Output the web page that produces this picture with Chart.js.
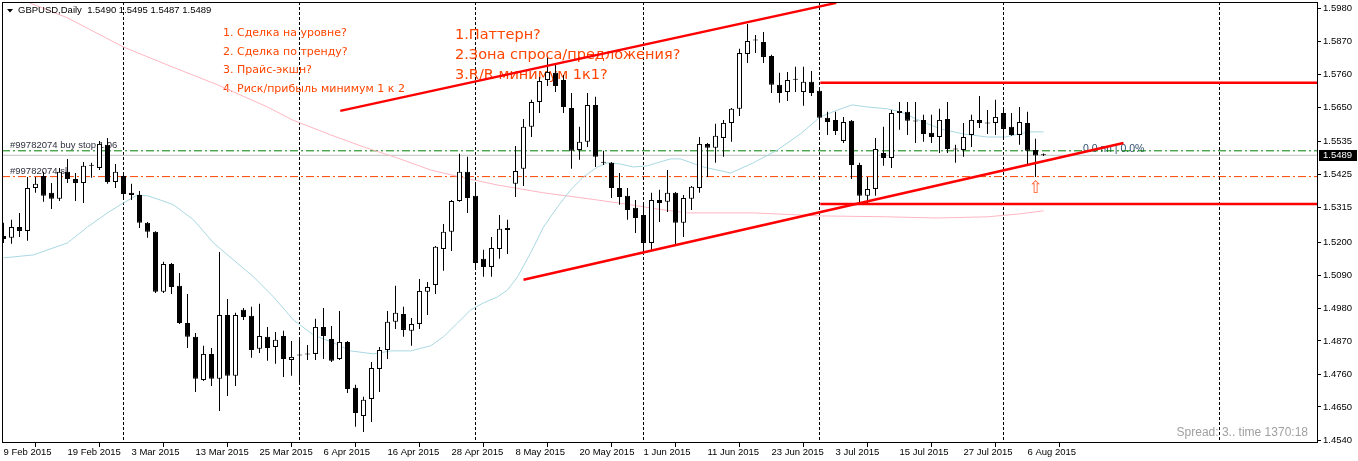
<!DOCTYPE html>
<html>
<head>
<meta charset="utf-8">
<script src="https://cdn.jsdelivr.net/npm/chart.js@4.4.1/dist/chart.umd.min.js"></script>
<style>
  html, body { margin: 0; padding: 0; background: #fff; }
  #wrap { width: 1358px; height: 461px; position: relative; }
</style>
</head>
<body>
<div id="wrap"><canvas id="gbpChart"></canvas></div>
<script>
// GBPUSD daily, 9 Feb 2015 .. 10 Aug 2015 (bar index 0..130)
const opens = [
  1.5220, 1.5214, 1.5250, 1.5237, 1.5380, 1.5420, 1.5364, 1.5344, 1.5434, 1.5410,
  1.5397, 1.5454, 1.5447, 1.5524, 1.5400, 1.5420, 1.5364, 1.5357, 1.5264, 1.5234,
  1.5034, 1.5127, 1.5054, 1.4930, 1.4884, 1.4740, 1.4827, 1.4744, 1.4957, 1.4754,
  1.4974, 1.4954, 1.4844, 1.4884, 1.4850, 1.4887, 1.4807, 1.4824, 1.4827, 1.4827,
  1.4917, 1.4877, 1.4810, 1.4867, 1.4714, 1.4620, 1.4677, 1.4777, 1.4840, 1.4934,
  1.4960, 1.4904, 1.4927, 1.5034, 1.5057, 1.5177, 1.5234, 1.5337, 1.5434, 1.5354,
  1.5144, 1.5117, 1.5177, 1.5240, 1.5394, 1.5444, 1.5584, 1.5667, 1.5740, 1.5764,
  1.5740, 1.5647, 1.5507, 1.5534, 1.5657, 1.5464, 1.5464, 1.5380, 1.5354, 1.5314,
  1.5290, 1.5197, 1.5340, 1.5334, 1.5364, 1.5264, 1.5344, 1.5380, 1.5527, 1.5514,
  1.5547, 1.5597, 1.5644, 1.5827, 1.5874, 1.5867, 1.5820, 1.5724, 1.5700, 1.5744,
  1.5700, 1.5734, 1.5704, 1.5614, 1.5607, 1.5537, 1.5604, 1.5457, 1.5354, 1.5377,
  1.5497, 1.5480, 1.5630, 1.5634, 1.5604, 1.5607, 1.5564, 1.5550, 1.5610, 1.5510,
  1.5507, 1.5557, 1.5607, 1.5597, 1.5597, 1.5630, 1.5584, 1.5557, 1.5597, 1.5507,
  1.5490
];
const highs = [
  1.5264, 1.5274, 1.5297, 1.5417, 1.5417, 1.5434, 1.5397, 1.5447, 1.5477, 1.5430,
  1.5467, 1.5464, 1.5537, 1.5547, 1.5460, 1.5430, 1.5394, 1.5370, 1.5267, 1.5236,
  1.5134, 1.5130, 1.5097, 1.5027, 1.4897, 1.4854, 1.4847, 1.5167, 1.5010, 1.4964,
  1.4980, 1.4984, 1.4994, 1.4917, 1.4900, 1.4904, 1.4870, 1.4880, 1.4857, 1.4944,
  1.4980, 1.4920, 1.4970, 1.4870, 1.4724, 1.4684, 1.4800, 1.4850, 1.4970, 1.5054,
  1.4984, 1.4947, 1.5077, 1.5067, 1.5187, 1.5260, 1.5340, 1.5494, 1.5484, 1.5400,
  1.5174, 1.5217, 1.5290, 1.5274, 1.5520, 1.5610, 1.5674, 1.5750, 1.5814, 1.5797,
  1.5757, 1.5697, 1.5584, 1.5697, 1.5684, 1.5504, 1.5467, 1.5430, 1.5380, 1.5340,
  1.5324, 1.5364, 1.5374, 1.5440, 1.5367, 1.5357, 1.5387, 1.5550, 1.5530, 1.5594,
  1.5607, 1.5647, 1.5844, 1.5927, 1.5890, 1.5900, 1.5824, 1.5764, 1.5767, 1.5784,
  1.5784, 1.5770, 1.5707, 1.5634, 1.5634, 1.5617, 1.5607, 1.5464, 1.5417, 1.5547,
  1.5584, 1.5640, 1.5667, 1.5667, 1.5667, 1.5624, 1.5624, 1.5644, 1.5667, 1.5524,
  1.5597, 1.5624, 1.5687, 1.5640, 1.5674, 1.5647, 1.5630, 1.5650, 1.5634, 1.5544,
  1.5495
];
const lows = [
  1.5197, 1.5194, 1.5217, 1.5204, 1.5364, 1.5334, 1.5310, 1.5337, 1.5397, 1.5337,
  1.5330, 1.5414, 1.5440, 1.5394, 1.5380, 1.5350, 1.5340, 1.5247, 1.5214, 1.5030,
  1.5030, 1.5027, 1.4927, 1.4847, 1.4700, 1.4737, 1.4720, 1.4637, 1.4687, 1.4720,
  1.4940, 1.4814, 1.4830, 1.4804, 1.4794, 1.4750, 1.4754, 1.4730, 1.4807, 1.4807,
  1.4810, 1.4800, 1.4807, 1.4697, 1.4584, 1.4567, 1.4600, 1.4700, 1.4810, 1.4910,
  1.4884, 1.4854, 1.4910, 1.4957, 1.5027, 1.5104, 1.5170, 1.5334, 1.5297, 1.5114,
  1.5084, 1.5084, 1.5144, 1.5160, 1.5350, 1.5387, 1.5550, 1.5630, 1.5720, 1.5700,
  1.5630, 1.5444, 1.5474, 1.5517, 1.5450, 1.5457, 1.5347, 1.5324, 1.5274, 1.5230,
  1.5164, 1.5174, 1.5267, 1.5300, 1.5190, 1.5217, 1.5307, 1.5364, 1.5417, 1.5464,
  1.5484, 1.5534, 1.5620, 1.5797, 1.5830, 1.5797, 1.5697, 1.5664, 1.5670, 1.5700,
  1.5654, 1.5687, 1.5574, 1.5557, 1.5557, 1.5530, 1.5410, 1.5330, 1.5330, 1.5354,
  1.5454, 1.5447, 1.5574, 1.5557, 1.5530, 1.5534, 1.5530, 1.5497, 1.5497, 1.5464,
  1.5484, 1.5517, 1.5580, 1.5560, 1.5557, 1.5547, 1.5554, 1.5524, 1.5457, 1.5417,
  1.5487
];
const closes = [
  1.5210, 1.5250, 1.5237, 1.5380, 1.5394, 1.5354, 1.5344, 1.5434, 1.5410, 1.5397,
  1.5454, 1.5457, 1.5527, 1.5400, 1.5434, 1.5360, 1.5357, 1.5264, 1.5234, 1.5034,
  1.5127, 1.5050, 1.4930, 1.4884, 1.4744, 1.4827, 1.4744, 1.4957, 1.4754, 1.4957,
  1.4950, 1.4840, 1.4887, 1.4847, 1.4874, 1.4810, 1.4817, 1.4822, 1.4825, 1.4917,
  1.4887, 1.4804, 1.4867, 1.4710, 1.4630, 1.4674, 1.4780, 1.4840, 1.4934, 1.4964,
  1.4907, 1.4927, 1.5037, 1.5050, 1.5184, 1.5234, 1.5337, 1.5434, 1.5347, 1.5130,
  1.5117, 1.5180, 1.5244, 1.5247, 1.5437, 1.5584, 1.5667, 1.5737, 1.5767, 1.5720,
  1.5650, 1.5504, 1.5534, 1.5657, 1.5484, 1.5467, 1.5380, 1.5350, 1.5307, 1.5280,
  1.5197, 1.5340, 1.5330, 1.5364, 1.5264, 1.5347, 1.5384, 1.5527, 1.5514, 1.5554,
  1.5597, 1.5644, 1.5830, 1.5870, 1.5872, 1.5817, 1.5724, 1.5697, 1.5740, 1.5741,
  1.5734, 1.5697, 1.5614, 1.5600, 1.5570, 1.5600, 1.5457, 1.5354, 1.5377, 1.5510,
  1.5480, 1.5630, 1.5637, 1.5604, 1.5602, 1.5560, 1.5550, 1.5607, 1.5510, 1.5508,
  1.5550, 1.5607, 1.5597, 1.5595, 1.5617, 1.5577, 1.5557, 1.5600, 1.5504, 1.5488,
  1.5489
];

// moving averages (bar index / price)
const maFastIdx = [0, 3.75, 8, 10.5, 13, 14.6, 16.75, 18, 19.6, 21.25, 23.75, 26.25, 28.75, 31.25, 33.75,
  36.25, 38.75, 41.25, 43.4, 46.25, 48.4, 50.9, 53.4, 55, 56.75, 58.4, 60, 61.75, 63, 64.25, 65.9, 67.5,
  69.25, 70.9, 72.5, 74.25, 75.5, 77.1, 78.75, 80.5, 82.1, 83.4, 84.6, 87.5, 90.9, 93.75, 96.75, 99.6,
  102.1, 104.25, 106.1, 108, 110.5, 112.1, 114.6, 117.1, 120, 123, 125.25, 128.1, 130];
const maFast = [1.5147, 1.5157, 1.5197, 1.5250, 1.5297, 1.5324, 1.5357, 1.5354, 1.5340, 1.5324, 1.5274,
  1.5197, 1.5140, 1.5084, 1.5017, 1.4940, 1.4890, 1.4864, 1.4837, 1.4827, 1.4837, 1.4837, 1.4854, 1.4884,
  1.4930, 1.4974, 1.4997, 1.5017, 1.5040, 1.5084, 1.5164, 1.5250, 1.5317, 1.5374, 1.5417, 1.5450, 1.5464,
  1.5460, 1.5450, 1.5454, 1.5467, 1.5477, 1.5477, 1.5450, 1.5430, 1.5464, 1.5507, 1.5560, 1.5617, 1.5640,
  1.5657, 1.5650, 1.5644, 1.5634, 1.5604, 1.5577, 1.5560, 1.5550, 1.5550, 1.5567, 1.5567];
const maSlowIdx = [0, 3, 8, 15, 20.5, 26.75, 33, 36.1, 40.9, 45, 49.25, 53.4, 57.5, 61.75, 67.5, 74.25,
  78.4, 82.5, 85.5, 93.75, 102.1, 110.5, 116.75, 123, 127.1, 130];
const maSlow = [1.6034, 1.6000, 1.5947, 1.5850, 1.5790, 1.5724, 1.5650, 1.5607, 1.5557, 1.5517, 1.5480,
  1.5440, 1.5414, 1.5390, 1.5364, 1.5340, 1.5324, 1.5307, 1.5297, 1.5297, 1.5287, 1.5284, 1.5280, 1.5284,
  1.5294, 1.5304];

// drawn objects
const channelTopIdx = [42.1, 104.1];
const channelTopPrice = [1.5637, 1.5997];
const channelBottomIdx = [65, 140];
const channelBottomPrice = [1.5074, 1.5530];
const levelStartIdx = 102.1;
const resistanceLevel = 1.5731;
const supportLevel = 1.5327;
const buyStopLevel = 1.5504;
const bidLevel = 1.5489;
const stopLossLevel = 1.5418;

// axes
const dateTickIdx = [0, 8, 16, 24, 32, 40, 48, 56, 64, 72, 80, 88, 96, 104, 112, 120, 128];
const dateTickLabels = ['9 Feb 2015', '19 Feb 2015', '3 Mar 2015', '13 Mar 2015', '25 Mar 2015',
  '6 Apr 2015', '16 Apr 2015', '28 Apr 2015', '8 May 2015', '20 May 2015', '1 Jun 2015',
  '11 Jun 2015', '23 Jun 2015', '3 Jul 2015', '15 Jul 2015', '27 Jul 2015', '6 Aug 2015'];
const priceTicks = [1.5980, 1.5870, 1.5760, 1.5650, 1.5535, 1.5425, 1.5315, 1.5200, 1.5090,
  1.4980, 1.4870, 1.4760, 1.4650, 1.4540];
const monthSepIdx = [15, 37, 59, 80, 102, 125, 152];

const notesSmall = ['1. Сделка на уровне?', '2. Сделка по тренду?', '3. Прайс-экшн?', '4. Риск/прибыль минимум 1 к 2'];
const notesBig = ['1.Паттерн?', '2.Зона спроса/предложения?', '3.R/R минимум 1к1?'];

const pts = (xs, ys) => xs.map((v, i) => ({x: v, y: ys[i]}));
const last = opens.length - 1;
const xMin = -0.1875;
const xMax = xMin + 1316 / 8;
const fullWidth = v => pts([xMin, xMax], [v, v]);

Chart.defaults.font.family = "'Liberation Sans', Arial, sans-serif";
Chart.defaults.font.size = 9.5;
Chart.defaults.color = '#000';

const decor = {
  id: 'decor',
  beforeDatasetsDraw(chart) {
    const {ctx, chartArea: a, scales: {x, y}} = chart;
    ctx.save();
    ctx.beginPath();
    ctx.rect(a.left, a.top, a.right - a.left, a.bottom - a.top);
    ctx.clip();

    // period separators
    ctx.strokeStyle = '#000';
    ctx.lineWidth = 1;
    ctx.setLineDash([3, 2]);
    monthSepIdx.forEach(i => {
      const px = Math.floor(x.getPixelForValue(i)) + 0.5;
      ctx.beginPath();
      ctx.moveTo(px, a.top);
      ctx.lineTo(px, a.bottom);
      ctx.stroke();
    });

    // notes
    ctx.setLineDash([]);
    ctx.fillStyle = '#FF4500';
    ctx.textBaseline = 'middle';
    ctx.font = "11px 'DejaVu Sans'";
    notesSmall.forEach((t, i) => ctx.fillText(t, 223, 33 + i * 18.7));
    ctx.font = "14.5px 'DejaVu Sans'";
    notesBig.forEach((t, i) => ctx.fillText(t, 455, 35 + i * 20.3));

    ctx.font = "9.5px 'Liberation Sans'";
    ctx.fillStyle = '#303040';
    ctx.fillText('#99782074 buy stop 1.06', 10, y.getPixelForValue(buyStopLevel) - 5);
    ctx.fillText('#99782074 sl', 10, y.getPixelForValue(stopLossLevel) - 5);
    ctx.font = "10.5px 'Liberation Sans'";
    ctx.fillStyle = '#2F4F6F';
    ctx.fillText('0.0 пп | 0.0%', 1083, 149);
    ctx.restore();
  },
  afterDraw(chart) {
    const {ctx, chartArea: a, scales: {x, y}} = chart;
    ctx.save();
    // frame
    ctx.strokeStyle = '#000';
    ctx.lineWidth = 1;
    ctx.strokeRect(a.left + 0.5, a.top + 0.5, a.right - a.left - 1, a.bottom - a.top - 1);

    // header
    ctx.fillStyle = '#000';
    ctx.beginPath();
    ctx.moveTo(7, 9); ctx.lineTo(13, 9); ctx.lineTo(10, 12.5); ctx.closePath();
    ctx.fill();
    ctx.font = "9.5px 'Liberation Sans'";
    ctx.textBaseline = 'middle';
    const f = v => v.toFixed(4);
    ctx.fillText('GBPUSD,Daily  ' + [opens[last], highs[last], lows[last], closes[last]].map(f).join(' '), 18, 10.5);

    // arrow under the last full bar
    ctx.font = "17px 'DejaVu Sans'";
    ctx.fillStyle = '#FF6030';
    ctx.textAlign = 'center';
    ctx.fillText('⇧', x.getPixelForValue(last - 1), y.getPixelForValue(lows[last - 1]) + 12);

    // spread
    ctx.textAlign = 'right';
    ctx.font = "12px 'Liberation Sans'";
    ctx.fillStyle = '#A0A0A0';
    ctx.fillText('Spread: 3.. time 1370:18', 1308, 433);

    // bid box
    const by = Math.round(y.getPixelForValue(bidLevel));
    ctx.fillStyle = '#000';
    ctx.fillRect(a.right + 1, by - 5, 38, 11);
    ctx.fillStyle = '#fff';
    ctx.textAlign = 'left';
    ctx.font = "9.5px 'Liberation Sans'";
    ctx.fillText(f(bidLevel), a.right + 5, by + 0.5);
    ctx.restore();
  }
};

const lineDs = (data, color, width, dash) => ({
  type: 'line', data, borderColor: color, borderWidth: width,
  borderDash: dash || [], pointRadius: 0, tension: 0, fill: false
});

new Chart(document.getElementById('gbpChart'), {
  type: 'bar',
  data: {
    datasets: [
      lineDs(pts(channelTopIdx, channelTopPrice), '#FF0000', 2.5),
      lineDs(pts(channelBottomIdx, channelBottomPrice), '#FF0000', 2.5),
      lineDs(pts([levelStartIdx, xMax], [resistanceLevel, resistanceLevel]), '#FF0000', 2.5),
      lineDs(pts([levelStartIdx, xMax], [supportLevel, supportLevel]), '#FF0000', 2.5),
      {
        data: opens.map((o, i) => ({x: i, y: [o, closes[i]]})),
        backgroundColor: opens.map((o, i) => closes[i] >= o ? '#FFFFFF' : '#000000'),
        borderColor: '#000',
        borderWidth: 1,
        borderSkipped: false,
        inflateAmount: 0,
        barThickness: 5,
        minBarLength: 1,
        grouped: false
      },
      {
        data: lows.map((l, i) => ({x: i, y: [l, highs[i]]})),
        backgroundColor: '#000',
        borderWidth: 0,
        inflateAmount: 0,
        barThickness: 1,
        grouped: false
      },
      lineDs(pts(maFastIdx, maFast), '#A8D8E2', 1),
      lineDs(pts(maSlowIdx, maSlow), '#FFB6C1', 1),
      lineDs(fullWidth(buyStopLevel), '#008000', 1, [8, 3, 2, 3]),
      lineDs(fullWidth(stopLossLevel), '#FF4500', 1, [8, 3, 2, 3]),
      lineDs(fullWidth(bidLevel), '#C0C0C0', 1)
    ]
  },
  options: {
    responsive: true,
    maintainAspectRatio: false,
    animation: false,
    layout: { padding: { left: 2, top: 2, right: 0, bottom: 0 } },
    plugins: { legend: { display: false }, tooltip: { enabled: false } },
    scales: {
      x: {
        type: 'linear',
        min: xMin,
        max: xMax,
        offset: false,
        afterBuildTicks: s => { s.ticks = dateTickIdx.map(v => ({value: v})); },
        afterFit: s => { s.height = 18; s.paddingLeft = 0; s.paddingRight = 0; },
        ticks: {
          autoSkip: false, maxRotation: 0, minRotation: 0, align: 'start', padding: 0,
          callback: v => dateTickLabels[dateTickIdx.indexOf(v)] ?? ''
        },
        grid: { drawOnChartArea: false, drawTicks: true, tickLength: 4, color: '#000' },
        border: { display: false }
      },
      y: {
        position: 'right',
        min: 1.4530,
        max: 1.6000,
        afterBuildTicks: s => { s.ticks = priceTicks.map(v => ({value: v})); },
        afterFit: s => { s.width = 40; s.paddingTop = 0; s.paddingBottom = 0; },
        ticks: { padding: 2, callback: v => v.toFixed(4) },
        grid: { drawOnChartArea: false, drawTicks: true, tickLength: 3, color: '#000' },
        border: { display: false }
      }
    }
  },
  plugins: [decor]
});
</script>
</body>
</html>
